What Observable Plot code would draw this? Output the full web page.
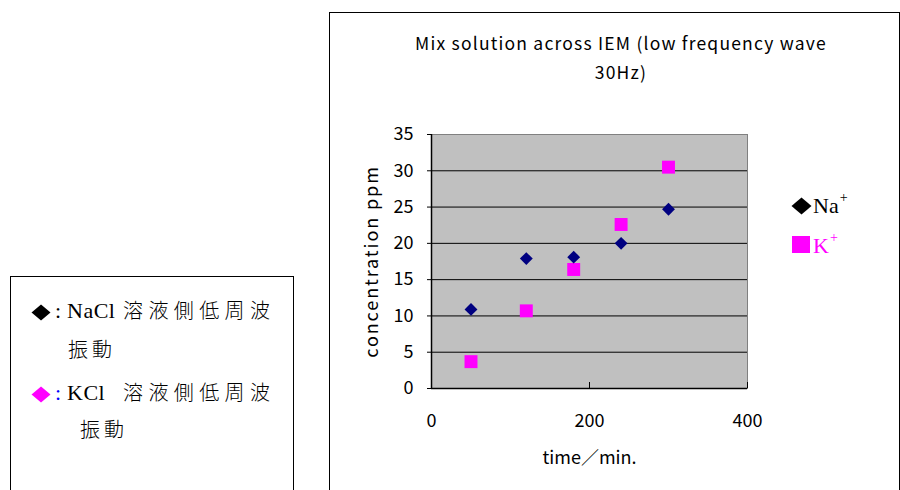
<!DOCTYPE html>
<html><head><meta charset="utf-8">
<script src="https://cdn.jsdelivr.net/npm/d3@7"></script>
<script src="https://cdn.jsdelivr.net/npm/@observablehq/plot@0.6"></script>
<style>
body{margin:0;background:#fff;}
#wrap{position:relative;width:900px;height:490px;overflow:hidden;background:#fff;}
.box{position:absolute;border:1.5px solid #000;box-sizing:border-box;}
.abs{position:absolute;}
#chart g[aria-label="y-axis label"] text{letter-spacing:1.9px;}
#overlay{position:absolute;left:0;top:0;pointer-events:none;}
</style></head><body>
<div id="wrap">
  <div class="box" style="left:10px;top:276px;width:284px;height:260px"></div>
  <div class="box" style="left:329px;top:12px;width:571px;height:520px"></div>
  <div id="chart" class="abs" style="left:330px;top:13px"></div>
</div>
<script>
// ---- data ----
const times = [50, 120, 180, 240, 300];
const naValues = [10.9, 17.9, 18.1, 20.0, 24.7];
const kValues = [3.7, 10.7, 16.4, 22.6, 30.5];
const yTicks = [0, 5, 10, 15, 20, 25, 30, 35];
const xTicks = [0, 200, 400];
const titleLines = ["Mix solution across IEM (low frequency wave", "30Hz)"];
const xLabel = "time／min.";
const yLabel = "concentration ppm";
const seriesNames = ["Na", "K"];
const noteSalts = ["NaCl", "KCl"];
const noteText = "溶液側低周波";
const noteText2 = "振動";

const naData = times.map((t, i) => ({t, v: naValues[i]}));
const kData = times.map((t, i) => ({t, v: kValues[i]}));

const W = 569, H = 477, mL = 101, mR = 152, mT = 121, mB = 102;
const plotH = H - mT - mB;
const font = '"Noto Sans CJK JP","Noto Sans",sans-serif';

const chart = Plot.plot({
  width: W, height: H,
  marginLeft: mL, marginRight: mR, marginTop: mT, marginBottom: mB,
  style: {fontFamily: font, fontSize: "16px", color: "#000", background: "transparent"},
  x: {domain: [0, 400]},
  y: {domain: [0, 35]},
  marks: [
    Plot.frame({fill: "#c0c0c0", stroke: "#808080"}),
    Plot.ruleY(yTicks.filter(d => d > 0 && d < 35), {stroke: "#000", strokeWidth: 1}),
    Plot.ruleY([0], {stroke: "#000", strokeWidth: 1.5}),
    Plot.ruleX([0], {stroke: "#000", strokeWidth: 1.5}),
    Plot.tickX(xTicks.filter(d => d > 0), {stroke: "#000", insetTop: plotH - 6}),
    Plot.axisY({ticks: yTicks, tickSize: 4, tickPadding: 14, fontSize: 18,
      label: yLabel, labelAnchor: "center", labelOffset: 66, labelArrow: "none"}),
    Plot.axisX({ticks: xTicks, tickSize: 0, tickPadding: 26, fontSize: 18,
      label: xLabel, labelAnchor: "center", labelOffset: 75, labelArrow: "none"}),
    Plot.dot(kData, {x: "t", y: "v", symbol: "square", r: 7.3, fill: "#ff00ff", stroke: "none"}),
    Plot.dot(naData, {x: "t", y: "v", symbol: "diamond2", r: 5.8, fill: "#000080", stroke: "none"})
  ]
});
document.getElementById("chart").appendChild(chart);

// ---- title, legend and note (overlay) ----
const ov = d3.select("#wrap").append("svg").attr("id", "overlay")
  .attr("width", 900).attr("height", 490);
const serif = '"Liberation Serif","Times New Roman",serif';
const cjk = '"Noto Sans CJK JP",sans-serif';

ov.selectAll("text.title").data(titleLines).join("text")
  .attr("x", 621).attr("y", (d, i) => 50 + i * 29)
  .attr("text-anchor", "middle")
  .style("font-family", font).style("font-size", "17.5px").style("letter-spacing", "1.2px")
  .text(d => d);

function diamond(g, cx, cy, w, h, fill) {
  g.append("polygon")
    .attr("points", [[cx, cy - h / 2], [cx + w / 2, cy], [cx, cy + h / 2], [cx - w / 2, cy]].join(" "))
    .attr("fill", fill);
}
// right legend
diamond(ov, 801.5, 206, 20, 17, "#000");
ov.append("rect").attr("x", 792).attr("y", 236).attr("width", 18).attr("height", 17).attr("fill", "#ff00ff");
const legItems = [
  {name: seriesNames[0], x: 813, y: 213, color: "#000"},
  {name: seriesNames[1], x: 813, y: 253, color: "#ff00ff"}
];
legItems.forEach(it => {
  const t = ov.append("text").attr("x", it.x).attr("y", it.y)
    .style("font-family", serif).style("font-size", "22px").attr("fill", it.color);
  t.append("tspan").text(it.name);
  t.append("tspan").attr("dy", -11).attr("dx", 1).style("font-size", "14px").text("+");
});

// left note box
const noteRows = [
  {marker: "#000", colon: "#000", salt: noteSalts[0], y: 318, y2: 357, x2: 68},
  {marker: "#ff00ff", colon: "#0000ff", salt: noteSalts[1], y: 400, y2: 437, x2: 80}
];
noteRows.forEach(r => {
  diamond(ov, 41, r.y - 5.5, 19, 16, r.marker);
  ov.append("text").attr("x", 55).attr("y", r.y).attr("fill", r.colon)
    .style("font-family", serif).style("font-size", "22px").text(":");
  ov.append("text").attr("x", 67).attr("y", r.y).attr("fill", "#000")
    .style("font-family", serif).style("font-size", "22px").style("letter-spacing", "0.5px").text(r.salt);
  ov.append("text").attr("x", 123).attr("y", r.y).attr("fill", "#000")
    .style("font-family", cjk).style("font-weight", 300).style("font-size", "20px")
    .style("letter-spacing", "5.4px").text(noteText);
  ov.append("text").attr("x", r.x2).attr("y", r.y2).attr("fill", "#000")
    .style("font-family", cjk).style("font-weight", 300).style("font-size", "20px")
    .style("letter-spacing", "4px").text(noteText2);
});
</script>
</body></html>
